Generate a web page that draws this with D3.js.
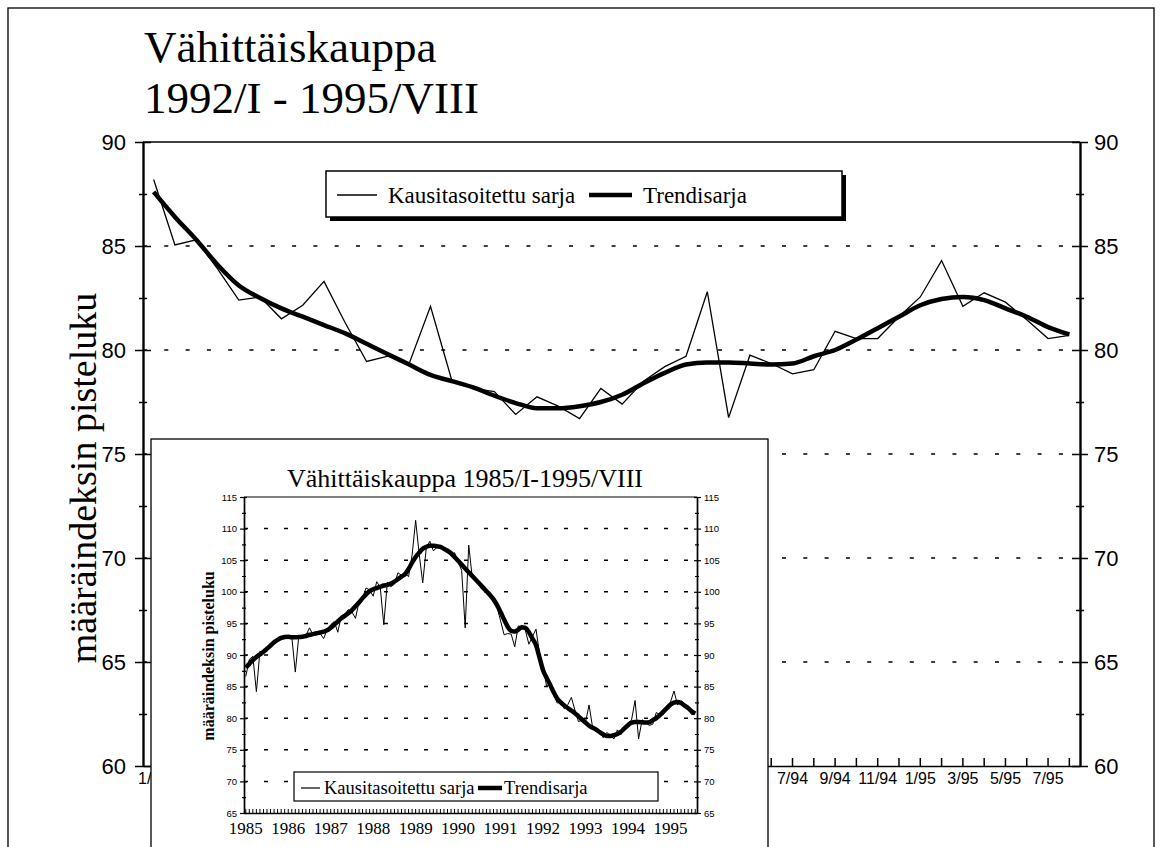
<!DOCTYPE html>
<html>
<head>
<meta charset="utf-8">
<script src="https://d3js.org/d3.v7.min.js"></script>
<style>
  body { margin: 0; background: #fff; }
  svg { display: block; }
  .serif { font-family: "Liberation Serif", "Times New Roman", serif; }
  .sans { font-family: "Liberation Sans", Arial, sans-serif; }
  .axis path, .axis line { stroke: #000; }
</style>
</head>
<body>
<div id="chart"></div>
<script>
// Kausitasoitettu sarja / Trendisarja, 1992/I - 1995/VIII
var seasAdj92 = [88.2, 85.05, 85.3, 83.9, 82.4, 82.55, 81.5, 82.15, 83.3, 81.3,
  79.45, 79.7, 79.35, 82.1, 78.55, 78.15, 78.0, 76.9, 77.75, 77.3,
  76.7, 78.15, 77.4, 78.5, 79.2, 79.7, 82.8, 76.75, 79.75, 79.35,
  78.85, 79.05, 80.9, 80.55, 80.55, 81.6, 82.55, 84.3, 82.1, 82.75,
  82.3, 81.45, 80.55, 80.7];
var trend92 = [87.6, 86.4, 85.3, 84.1, 83.1, 82.5, 82.0, 81.6, 81.2, 80.8,
  80.3, 79.8, 79.3, 78.8, 78.5, 78.2, 77.8, 77.45, 77.2, 77.2,
  77.3, 77.5, 77.85, 78.4, 78.9, 79.3, 79.4, 79.4, 79.35, 79.3,
  79.35, 79.7, 80.0, 80.5, 81.05, 81.6, 82.15, 82.45, 82.55, 82.4,
  82.0, 81.6, 81.1, 80.75];

// earlier part of the inset, 1985/I - 1991/XII
var seasAdj85 = [86.6, 89.3, 89.8, 84.2, 90.6, 90.2, 91.3, 91.6, 92.3, 92.6,
  92.5, 92.9, 92.7, 92.9, 87.3, 93.1, 92.7, 93.1, 94.3, 93.2,
  93.5, 93.4, 92.6, 94.0, 94.8, 95.3, 93.6, 96.2, 96.5, 97.2,
  96.8, 95.8, 98.4, 99.1, 100.6, 100.3, 99.3, 101.6, 100.7, 94.8,
  101.5, 100.8, 101.2, 103.0, 102.6, 102.9, 102.4, 105.8, 111.3, 106.0,
  101.4, 106.9, 108.0, 106.5, 107.0, 107.1, 106.9, 106.6, 105.7, 106.2,
  104.7, 103.4, 94.3, 107.4, 102.2, 102.0, 101.3, 100.8, 99.9, 99.6,
  98.5, 97.6, 95.4, 93.2, 93.4, 93.3, 91.3, 94.6, 94.4, 93.9,
  91.7, 92.9, 94.1, 90.2];
var trend85 = [88.0, 88.6, 89.2, 89.7, 90.1, 90.5, 91.0, 91.5, 92.0, 92.4,
  92.7, 92.85, 92.9, 92.8, 92.8, 92.85, 92.9, 93.0, 93.2, 93.3,
  93.45, 93.55, 93.7, 93.9, 94.3, 94.8, 95.3, 95.8, 96.2, 96.6,
  97.1, 97.7, 98.3, 99.0, 99.6, 100.1, 100.4, 100.6, 100.8, 101.0,
  101.1, 101.3, 101.6, 102.0, 102.4, 102.8, 103.6, 104.6, 105.5, 106.2,
  106.8, 107.1, 107.3, 107.3, 107.2, 107.1, 106.8, 106.5, 106.1, 105.5,
  104.9, 104.3, 103.7, 103.1, 102.5, 101.9, 101.3, 100.7, 100.1, 99.5,
  98.8, 97.9, 96.8, 95.6, 94.5, 93.8, 93.7, 94.0, 94.4, 94.3,
  93.6, 92.6, 91.6, 89.6];

var monthTickLabels = ["1/92", "3/92", "5/92", "7/92", "9/92", "11/92",
  "1/93", "3/93", "5/93", "7/93", "9/93", "11/93",
  "1/94", "3/94", "5/94", "7/94", "9/94", "11/94",
  "1/95", "3/95", "5/95", "7/95"];
var yearLabels = ["1985", "1986", "1987", "1988", "1989", "1990",
  "1991", "1992", "1993", "1994", "1995"];
var mainYTicks = [60, 65, 70, 75, 80, 85, 90];
var mainYMinor = [62.5, 67.5, 72.5, 77.5, 82.5, 87.5];
var mainGrid = [65, 70, 75, 80, 85];
var insetYTicks = [65, 70, 75, 80, 85, 90, 95, 100, 105, 110, 115];
var insetYMinor = [67.5, 72.5, 77.5, 82.5, 87.5, 92.5, 97.5, 102.5, 107.5, 112.5];
var insetGrid = [70, 75, 80, 85, 90, 95, 100, 105, 110];

// month categories
var monthsMain = [];
[92, 93, 94, 95].forEach(function(yy) {
  for (var m = 1; m <= 12; m++) monthsMain.push(m + "/" + yy);
});
monthsMain = monthsMain.slice(0, seasAdj92.length);

var monthsInset = [];
yearLabels.forEach(function(yy) {
  for (var m = 1; m <= 12; m++) monthsInset.push(m + "/" + yy);
});
var seasAdjAll = seasAdj85.concat(seasAdj92);
var trendAll = trend85.concat(trend92);
monthsInset = monthsInset.slice(0, seasAdjAll.length);

var W = 1161, H = 847;

var svg = d3.select("#chart")
  .append("svg")
    .attr("width", W)
    .attr("height", H);

// page frame
svg.append("rect")
  .attr("x", 8).attr("y", 8)
  .attr("width", 1146).attr("height", H)
  .attr("fill", "none").attr("stroke", "#000").attr("stroke-width", 1.3);

// Title
var title = svg.append("text").attr("class", "serif").style("font-size", "45px");
title.append("tspan").attr("x", 144).attr("y", 62).text("Vähittäiskauppa");
title.append("tspan").attr("x", 144).attr("y", 113).text("1992/I - 1995/VIII");

// ---------- main chart ----------
var plot = {left: 143, right: 1080, top: 142, bottom: 766};
var insetBox = {x: 151, y: 439, w: 617};

var x = d3.scaleBand()
  .domain(monthsMain)
  .range([plot.left, plot.right]);
var y = d3.scaleLinear()
  .domain([60, 90])
  .range([plot.bottom, plot.top]);

// gridlines
svg.selectAll(".mgrid")
  .data(mainGrid)
  .enter()
  .append("line")
    .attr("x1", plot.left).attr("x2", plot.right)
    .attr("y1", function(d) { return y(d); })
    .attr("y2", function(d) { return y(d); })
    .attr("stroke", "#000").attr("stroke-width", 1.6)
    .attr("stroke-dasharray", "4,17.3");

// top border
svg.append("line")
  .attr("x1", plot.left).attr("x2", plot.right)
  .attr("y1", y(90)).attr("y2", y(90))
  .attr("stroke", "#000").attr("stroke-width", 1.5);

// Y axes, ticks crossing the axis line
function crossAxis(xpos, side) {
  var g = svg.append("g").attr("class", "axis sans")
    .attr("transform", "translate(" + xpos + ",0)");
  var out = function() { return side == "left" ? d3.axisLeft(y) : d3.axisRight(y); };
  var inn = function() { return side == "left" ? d3.axisRight(y) : d3.axisLeft(y); };
  g.append("g")
    .call(out().tickValues(mainYTicks).tickSize(8).tickSizeOuter(0)
      .tickPadding(side == "left" ? 9 : 6).tickFormat(d3.format("d")))
    .style("font-size", "22px");
  g.append("g").call(inn().tickValues(mainYTicks).tickSize(8).tickSizeOuter(0).tickFormat(""));
  g.append("g").call(out().tickValues(mainYMinor).tickSize(4).tickSizeOuter(0).tickFormat(""));
  g.append("g").call(inn().tickValues(mainYMinor).tickSize(4).tickSizeOuter(0).tickFormat(""));
  g.selectAll("path, line").attr("stroke-width", 1.5);
  g.selectAll("text").attr("fill", "#000");
}
crossAxis(plot.left, "left");
crossAxis(plot.right, "right");

// X axis (labels lying wholly under the inset are not shown)
var xAxis = svg.append("g")
  .attr("class", "axis sans")
  .attr("transform", "translate(0," + plot.bottom + ")")
  .call(d3.axisBottom(x).tickSize(-8).tickSizeOuter(0).tickPadding(7)
    .tickFormat(function(d) {
      if (monthTickLabels.indexOf(d) < 0) return "";
      var cxm = x(d) + x.bandwidth() / 2;
      var hidden = cxm - 16 > insetBox.x && cxm + 16 < insetBox.x + insetBox.w;
      return hidden ? "" : d;
    }))
  .style("font-size", "16px");
xAxis.selectAll("path, line").attr("stroke-width", 1.5);
xAxis.selectAll("text").attr("fill", "#000");

// Y axis label
svg.append("text")
  .attr("class", "serif")
  .attr("transform", "translate(96,478) rotate(-90)")
  .attr("text-anchor", "middle")
  .style("font-size", "38px")
  .text("määräindeksin pisteluku");

// lines
var cx = function(d, i) { return x(monthsMain[i]) + x.bandwidth() / 2; };
svg.append("path")
  .datum(seasAdj92)
  .attr("fill", "none").attr("stroke", "#000").attr("stroke-width", 1.3)
  .attr("d", d3.line().x(cx).y(function(d) { return y(d); }));
svg.append("path")
  .datum(trend92)
  .attr("fill", "none").attr("stroke", "#000").attr("stroke-width", 4.5)
  .attr("stroke-linejoin", "round")
  .attr("d", d3.line().curve(d3.curveMonotoneX).x(cx).y(function(d) { return y(d); }));

// Handmade legend
svg.append("rect").attr("x", 330).attr("y", 175).attr("width", 516).attr("height", 46).attr("fill", "#000");
svg.append("rect").attr("x", 326).attr("y", 171).attr("width", 516).attr("height", 46)
  .attr("fill", "#fff").attr("stroke", "#000").attr("stroke-width", 1.5);
svg.append("line").attr("x1", 337).attr("x2", 377).attr("y1", 195).attr("y2", 195)
  .attr("stroke", "#000").attr("stroke-width", 1.3);
svg.append("line").attr("x1", 589).attr("x2", 632).attr("y1", 195).attr("y2", 195)
  .attr("stroke", "#000").attr("stroke-width", 4.5);
svg.append("text").attr("class", "serif").attr("x", 388).attr("y", 203)
  .style("font-size", "23px").text("Kausitasoitettu sarja");
svg.append("text").attr("class", "serif").attr("x", 643).attr("y", 203)
  .style("font-size", "23px").text("Trendisarja");

// ---------- inset chart ----------
var inset = svg.append("g");
inset.append("rect")
  .attr("x", insetBox.x).attr("y", insetBox.y)
  .attr("width", insetBox.w).attr("height", 430)
  .attr("fill", "#fff").attr("stroke", "#000").attr("stroke-width", 1.3);

var ip = {left: 244, right: 697, top: 497, bottom: 813};
var xi = d3.scaleBand()
  .domain(monthsInset)
  .range([ip.left, ip.right]);
var yi = d3.scaleLinear()
  .domain([65, 115])
  .range([ip.bottom, ip.top]);

inset.append("text")
  .attr("class", "serif")
  .attr("x", 465).attr("y", 487)
  .attr("text-anchor", "middle")
  .style("font-size", "26px")
  .text("Vähittäiskauppa 1985/I-1995/VIII");

inset.selectAll(".igrid")
  .data(insetGrid)
  .enter()
  .append("line")
    .attr("x1", ip.left).attr("x2", ip.right)
    .attr("y1", function(d) { return yi(d); })
    .attr("y2", function(d) { return yi(d); })
    .attr("stroke", "#000").attr("stroke-width", 1.5)
    .attr("stroke-dasharray", "4,16");

inset.append("line")
  .attr("x1", ip.left).attr("x2", ip.right)
  .attr("y1", yi(115)).attr("y2", yi(115))
  .attr("stroke", "#000").attr("stroke-width", 1.2);

function insetAxis(xpos, side) {
  var g = inset.append("g").attr("class", "axis sans")
    .attr("transform", "translate(" + xpos + ",0)");
  var out = function() { return side == "left" ? d3.axisLeft(yi) : d3.axisRight(yi); };
  var inn = function() { return side == "left" ? d3.axisRight(yi) : d3.axisLeft(yi); };
  g.append("g").call(out().tickValues(insetYTicks).tickSize(4).tickSizeOuter(0).tickPadding(3))
    .style("font-size", "9.5px");
  g.append("g").call(inn().tickValues(insetYTicks).tickSize(3).tickSizeOuter(0).tickFormat(""));
  g.append("g").call(out().tickValues(insetYMinor).tickSize(2).tickSizeOuter(0).tickFormat(""));
  g.append("g").call(inn().tickValues(insetYMinor).tickSize(2).tickSizeOuter(0).tickFormat(""));
  g.selectAll("path, line").attr("stroke-width", 1.2);
  g.selectAll("text").attr("fill", "#000");
}
insetAxis(ip.left, "left");
insetAxis(ip.right, "right");

var xiAxis = inset.append("g")
  .attr("class", "axis serif")
  .attr("transform", "translate(0," + ip.bottom + ")")
  .call(d3.axisBottom(xi).tickSize(-4).tickSizeOuter(0).tickPadding(9)
    .tickFormat(function(d) {
      var p = d.split("/");
      return p[0] == "1" && yearLabels.indexOf(p[1]) >= 0 ? p[1] : "";
    }))
  .style("font-size", "17px");
xiAxis.selectAll("path").attr("stroke-width", 1.5);
xiAxis.selectAll("line").attr("stroke-width", 1);
xiAxis.selectAll("text").attr("fill", "#000");

inset.append("text")
  .attr("class", "serif")
  .attr("transform", "translate(214,656) rotate(-90)")
  .attr("text-anchor", "middle")
  .style("font-size", "16px")
  .style("font-weight", "bold")
  .text("määräindeksin pisteluku");

var icx = function(d, i) { return xi(monthsInset[i]) + xi.bandwidth() / 2; };
inset.append("path")
  .datum(seasAdjAll)
  .attr("fill", "none").attr("stroke", "#000").attr("stroke-width", 1)
  .attr("d", d3.line().x(icx).y(function(d) { return yi(d); }));
inset.append("path")
  .datum(trendAll)
  .attr("fill", "none").attr("stroke", "#000").attr("stroke-width", 4.5)
  .attr("stroke-linejoin", "round")
  .attr("d", d3.line().curve(d3.curveMonotoneX).x(icx).y(function(d) { return yi(d); }));

// inset legend
inset.append("rect").attr("x", 294).attr("y", 772).attr("width", 364).attr("height", 29)
  .attr("fill", "#fff").attr("stroke", "#000").attr("stroke-width", 1.2);
inset.append("line").attr("x1", 301).attr("x2", 320).attr("y1", 788).attr("y2", 788)
  .attr("stroke", "#000").attr("stroke-width", 1.2);
inset.append("line").attr("x1", 478).attr("x2", 502).attr("y1", 788).attr("y2", 788)
  .attr("stroke", "#000").attr("stroke-width", 4.5);
inset.append("text").attr("class", "serif").attr("x", 324).attr("y", 794)
  .style("font-size", "18.5px").text("Kausitasoitettu sarja");
inset.append("text").attr("class", "serif").attr("x", 504).attr("y", 794)
  .style("font-size", "18.5px").text("Trendisarja");
</script>
</body>
</html>
